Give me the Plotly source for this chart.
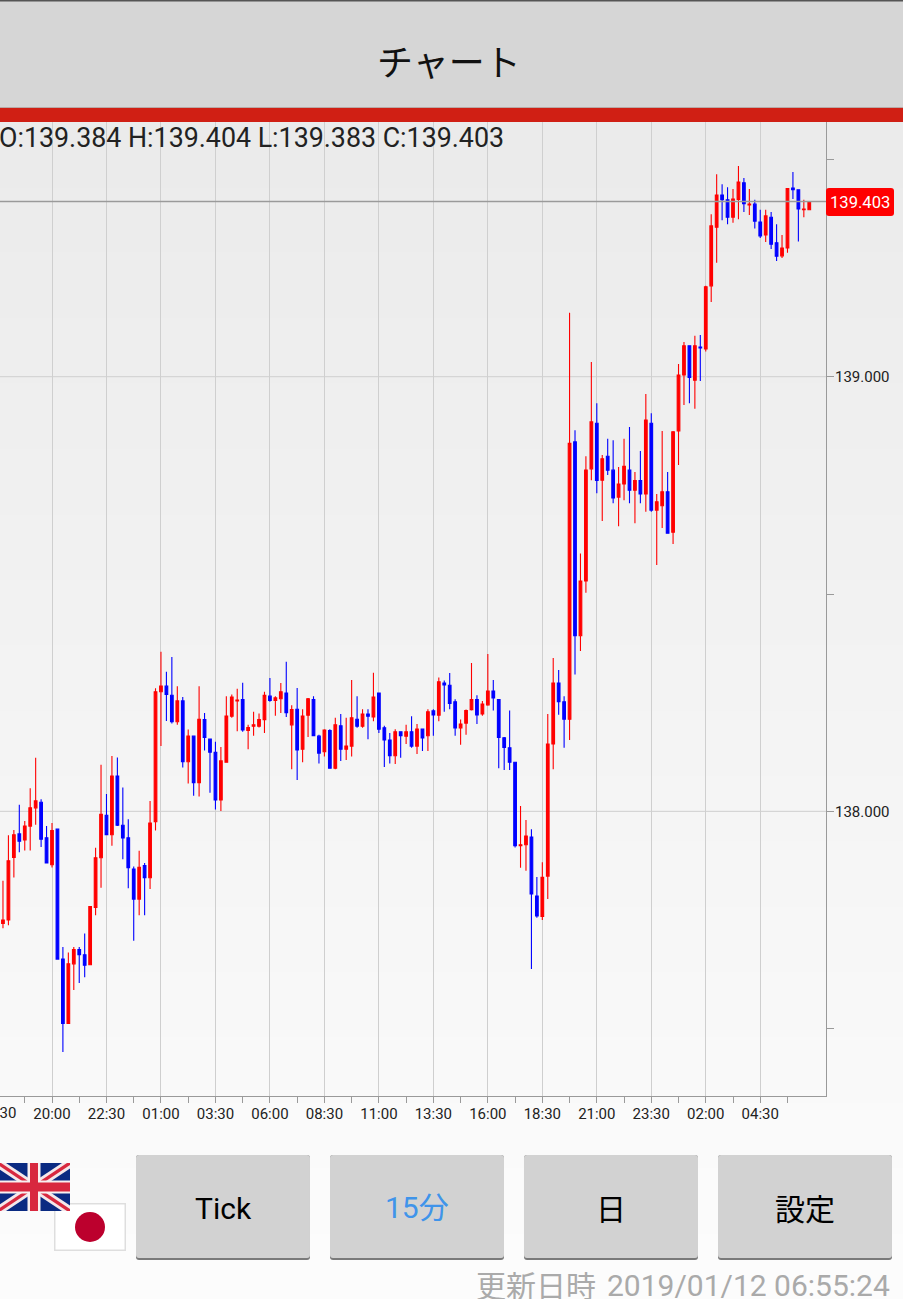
import plotly.graph_objects as go

# ---- chart data (USD/JPY style 15-minute candles) ----
opens = [137.742,137.750,137.894,137.948,137.934,137.966,138.008,138.021,137.939,137.877,
137.959,137.660,137.512,137.649,137.682,137.670,137.647,137.779,137.893,137.991,
137.946,138.081,137.968,137.939,137.867,137.798,137.875,137.847,137.976,138.275,
138.288,138.267,138.206,138.254,138.114,138.173,138.066,138.211,138.166,138.136,
138.026,138.113,138.219,138.254,138.257,138.186,138.196,138.196,138.211,138.265,
138.255,138.259,138.272,138.199,138.235,138.143,138.221,138.257,138.173,138.137,
138.186,138.099,138.197,138.143,138.150,138.212,138.196,138.224,138.217,138.272,
138.192,138.164,138.128,138.183,138.173,138.183,138.150,138.189,138.174,138.231,
138.221,138.295,138.290,138.252,138.192,138.203,138.234,138.257,138.224,138.245,
138.277,138.257,138.169,138.146,138.113,137.921,137.923,137.941,137.805,137.758,
137.851,138.155,138.295,138.252,138.212,138.850,138.404,138.530,138.788,138.893,
138.762,138.817,138.785,138.723,138.753,138.785,138.739,138.761,138.730,138.893,
138.693,138.703,138.735,138.642,138.875,139.004,139.071,138.992,139.068,139.064,
139.209,139.344,139.418,139.407,139.367,139.408,139.446,139.395,139.397,139.356,
139.326,139.367,139.308,139.278,139.296,139.434,139.430,139.384,139.384]

closes = [137.750,137.886,137.946,137.931,137.966,138.008,138.024,137.936,137.881,137.956,
137.660,137.512,137.649,137.682,137.670,137.646,137.781,137.893,137.993,137.946,
138.081,137.968,137.939,137.870,137.798,137.871,137.847,137.973,138.275,138.288,
138.269,138.206,138.254,138.114,138.173,138.066,138.212,138.170,138.136,138.026,
138.116,138.219,138.263,138.256,138.187,138.193,138.199,138.211,138.267,138.255,
138.261,138.275,138.227,138.234,138.141,138.219,138.259,138.174,138.134,138.187,
138.099,138.199,138.143,138.150,138.215,138.196,138.224,138.219,138.263,138.189,
138.164,138.128,138.183,138.174,138.183,138.150,138.189,138.169,138.229,138.222,
138.298,138.291,138.248,138.192,138.201,138.232,138.257,138.222,138.247,138.277,
138.261,138.170,138.147,138.113,137.921,137.923,137.943,137.810,137.759,137.848,
138.155,138.295,138.252,138.212,138.847,138.404,138.530,138.785,138.896,138.761,
138.811,138.785,138.721,138.753,138.794,138.739,138.761,138.730,138.900,138.693,
138.712,138.735,138.640,138.873,139.004,139.071,138.998,139.071,139.066,139.207,
139.347,139.418,139.407,139.367,139.409,139.448,139.398,139.397,139.358,139.324,
139.370,139.305,139.277,139.296,139.433,139.430,139.386,139.386,139.403]

highs = [137.840,137.945,137.957,138.015,137.978,138.053,138.123,138.028,137.966,137.973,
137.960,137.688,137.675,137.688,137.688,137.719,137.782,137.916,138.107,138.040,
138.127,138.124,138.055,137.982,137.873,137.909,137.881,138.024,138.283,138.367,
138.321,138.355,138.288,138.263,138.188,138.174,138.288,138.226,138.166,138.160,
138.148,138.265,138.269,138.282,138.296,138.199,138.229,138.225,138.275,138.307,
138.265,138.295,138.344,138.244,138.284,138.235,138.261,138.265,138.176,138.189,
138.189,138.215,138.224,138.215,138.302,138.265,138.235,138.235,138.319,138.272,
138.197,138.180,138.189,138.183,138.199,138.219,138.201,138.189,138.235,138.235,
138.308,138.301,138.318,138.258,138.211,138.234,138.341,138.267,138.254,138.362,
138.302,138.257,138.171,138.232,138.113,138.012,137.980,137.959,137.849,137.883,
138.224,138.353,138.325,138.265,139.147,138.877,138.593,138.817,139.034,138.939,
138.820,138.857,138.854,138.792,138.857,138.884,138.781,138.829,138.960,138.916,
138.730,138.875,138.781,138.875,139.029,139.080,139.071,139.094,139.096,139.209,
139.374,139.466,139.443,139.436,139.432,139.485,139.457,139.432,139.407,139.384,
139.384,139.379,139.351,139.326,139.434,139.471,139.430,139.407,139.404]

lows = [137.731,137.738,137.848,137.906,137.910,137.910,137.969,137.918,137.881,137.871,
137.659,137.446,137.512,137.589,137.605,137.618,137.646,137.761,137.824,137.945,
137.921,137.966,137.890,137.823,137.702,137.761,137.761,137.821,137.956,138.150,
138.208,138.202,138.199,138.101,138.064,138.036,138.034,138.140,138.043,138.004,
138.001,138.113,138.215,138.184,138.183,138.143,138.174,138.193,138.180,138.252,
138.220,138.226,138.217,138.097,138.072,138.113,138.171,138.173,138.110,138.126,
138.099,138.097,138.116,138.118,138.126,138.192,138.192,138.166,138.207,138.180,
138.102,138.110,138.109,138.123,138.155,138.146,138.132,138.139,138.139,138.174,
138.207,138.229,138.235,138.174,138.153,138.176,138.232,138.201,138.220,138.243,
138.232,138.099,138.095,138.095,137.917,137.870,137.863,137.637,137.755,137.750,
137.798,138.097,138.222,138.146,138.164,138.315,138.369,138.503,138.762,138.732,
138.668,138.774,138.709,138.656,138.716,138.709,138.663,138.709,138.689,138.689,
138.567,138.652,138.640,138.615,138.797,138.935,138.939,138.926,138.990,139.058,
139.172,139.262,139.360,139.351,139.354,139.362,139.379,139.372,139.341,139.319,
139.310,139.294,139.266,139.273,139.285,139.409,139.311,139.367,139.383]

candle_index = list(range(len(opens)))
time_tick_index = [9, 19, 29, 39, 49, 59, 69, 79, 89, 99, 109, 119, 129, 139]
time_tick_labels = ["20:00","22:30","01:00","03:30","06:00","08:30","11:00",
                    "13:30","16:00","18:30","21:00","23:30","02:00","04:30"]
cut_off_time_label = "17:30"
minor_time_index = [4, 14, 24, 34, 44, 54, 64, 74, 84, 94, 104, 114, 124, 134, 144]
price_ticks = [137.5, 138.0, 138.5, 139.0, 139.5]
price_tick_labels = ["", "138.000", "", "139.000", ""]
last_price = 139.403
ohlc_text = "O:139.384 H:139.404 L:139.383 C:139.403"
title_text = "チャート"
button_labels = ["Tick", "15分", "日", "設定"]
updated_label = "更新日時"
updated_stamp = "2019/01/12 06:55:24"

# ---- page geometry ----
W, H = 903, 1299
PL, PR, PT, PB = 0, 826, 122, 1096
PW, PH = PR - PL, PB - PT
LATIN = "Roboto, 'Noto Sans CJK JP', sans-serif"
CJK = "'Noto Sans CJK JP', Roboto, sans-serif"


def X(px):
    return (px - PL) / PW


def Y(py):
    return (PB - py) / PH


def rect(x0, y0, x1, y1, color, layer="above", line=None):
    return dict(type="rect", xref="paper", yref="paper", x0=X(x0), x1=X(x1), y0=Y(y0), y1=Y(y1),
                fillcolor=color, layer=layer, line=line or dict(width=0))


def poly(points, color):
    d = "M " + " L ".join(f"{X(a):.5f},{Y(b):.5f}" for a, b in points) + " Z"
    return dict(type="path", xref="paper", yref="paper", path=d, fillcolor=color,
                layer="above", line=dict(width=0))


def rounded(x0, y0, x1, y1, r, color):
    d = (f"M {X(x0+r):.5f},{Y(y0):.5f} L {X(x1-r):.5f},{Y(y0):.5f} "
         f"Q {X(x1):.5f},{Y(y0):.5f} {X(x1):.5f},{Y(y0+r):.5f} "
         f"L {X(x1):.5f},{Y(y1-r):.5f} Q {X(x1):.5f},{Y(y1):.5f} {X(x1-r):.5f},{Y(y1):.5f} "
         f"L {X(x0+r):.5f},{Y(y1):.5f} Q {X(x0):.5f},{Y(y1):.5f} {X(x0):.5f},{Y(y1-r):.5f} "
         f"L {X(x0):.5f},{Y(y0+r):.5f} Q {X(x0):.5f},{Y(y0):.5f} {X(x0+r):.5f},{Y(y0):.5f} Z")
    return dict(type="path", xref="paper", yref="paper", path=d, fillcolor=color,
                layer="above", line=dict(width=0))


def label(text, px, py, size, color="#111111", family=LATIN, anchor="center"):
    return dict(text=text, xref="paper", yref="paper", x=X(px), y=Y(py), xanchor=anchor,
                yanchor="middle", showarrow=False, borderpad=0,
                font=dict(size=size, color=color, family=family))


shapes = []
# page gradient, one band per grey level
levels = list(range(0xEB, 0xFD))
for k, g in enumerate(levels):
    y0 = PT + (H - PT) * k / len(levels)
    shapes.append(rect(0, y0, W, H, f"rgb({g},{g},{g})", layer="below"))

# header
shapes.append(rect(0, 0, W, 107, "#d6d6d6"))
shapes.append(rect(0, 0, W, 1.5, "#555555"))
shapes.append(rect(0, 107, W, 122, "#d01f14"))
shapes.append(rect(0, 107, W, 108, "#b9a9a6"))

# last-price line and tag
shapes.append(dict(type="line", xref="paper", yref="y", x0=0, x1=1, y0=last_price, y1=last_price,
                   layer="above", line=dict(color="#9a9a9a", width=1.6)))
shapes.append(rounded(826, 188, 894, 216, 3, "#ff0000"))

# buttons
button_x = [136, 330, 524, 718]
for bx in button_x:
    shapes.append(rounded(bx, 1155, bx + 174, 1260, 3, "#7a7a7a"))
    shapes.append(rounded(bx, 1155, bx + 174, 1258, 3, "#d2d2d2"))

# Japanese flag
shapes.append(rect(54, 1203, 126, 1251, "#dedede"))
shapes.append(rect(55.5, 1204.5, 124.5, 1249.5, "#ffffff"))
shapes.append(dict(type="circle", xref="paper", yref="paper", x0=X(75), x1=X(105), y0=Y(1212), y1=Y(1242),
                   fillcolor="#bc002d", layer="above", line=dict(width=0)))

# UK flag
fx0, fy0, fx1, fy1 = -2, 1163, 70, 1211
fxc, fyc = (fx0 + fx1) / 2, (fy0 + fy1) / 2
shapes.append(rect(fx0, fy0, fx1, fy1, "#0a2a82"))
dw, dh = 8, 5.5
shapes.append(poly([(fx0, fy0), (fx0 + dw, fy0), (fx1, fy1 - dh), (fx1, fy1), (fx1 - dw, fy1), (fx0, fy0 + dh)], "#f4e8ea"))
shapes.append(poly([(fx1, fy0), (fx1 - dw, fy0), (fx0, fy1 - dh), (fx0, fy1), (fx0 + dw, fy1), (fx1, fy0 + dh)], "#f4e8ea"))
dw, dh = 3, 2
shapes.append(poly([(fx0, fy0), (fx0 + dw, fy0), (fx1, fy1 - dh), (fx1, fy1), (fx1 - dw, fy1), (fx0, fy0 + dh)], "#d8283f"))
shapes.append(poly([(fx1, fy0), (fx1 - dw, fy0), (fx0, fy1 - dh), (fx0, fy1), (fx0 + dw, fy1), (fx1, fy0 + dh)], "#d8283f"))
shapes.append(rect(fxc - 6.5, fy0, fxc + 6.5, fy1, "#f8f0f0"))
shapes.append(rect(fx0, fyc - 6.5, fx1, fyc + 6.5, "#f8f0f0"))
shapes.append(rect(fxc - 4, fy0, fxc + 4, fy1, "#d8283f"))
shapes.append(rect(fx0, fyc - 4.5, fx1, fyc + 4.5, "#d8283f"))

annotations = [
    label(title_text, 449.5, 60.5, 36, "#111111", CJK),
    label(ohlc_text, -2, 138, 26.8, "#222222", LATIN, "left"),
    label(cut_off_time_label, -2.4, 1113, 15, "#222222"),
    label(f"{last_price:.3f}", 860, 202, 16.6, "#ffffff"),
    label(button_labels[0], 223, 1208, 30, "#000000"),
    label(button_labels[1], 417, 1207.5, 30, "#3f94ea"),
    label(button_labels[2], 611, 1206.5, 30, "#000000", CJK),
    label(button_labels[3], 805, 1206.5, 30, "#000000", CJK),
    label(updated_label, 475, 1284, 30, "#aaaaaa", CJK, "left"),
    label(updated_stamp, 890.5, 1285, 30, "#aaaaaa", LATIN, "right"),
]

fig = go.Figure(go.Candlestick(
    x=candle_index, open=opens, high=highs, low=lows, close=closes,
    increasing=dict(line=dict(color="#ff0000", width=1.1), fillcolor="#ff0000"),
    decreasing=dict(line=dict(color="#0000ff", width=1.1), fillcolor="#0000ff"),
    showlegend=False, hoverinfo="skip",
))

fig.update_layout(
    width=W, height=H, autosize=False,
    margin=dict(l=PL, r=W - PR, t=PT, b=H - PB, pad=0, autoexpand=False),
    paper_bgcolor="#ffffff", plot_bgcolor="rgba(0,0,0,0)",
    showlegend=False, shapes=shapes, annotations=annotations,
    xaxis=dict(
        range=[-0.545, 151.07], rangeslider=dict(visible=False),
        tickmode="array", tickvals=time_tick_index, ticktext=time_tick_labels,
        ticks="outside", ticklen=6, tickwidth=1, tickcolor="#9a9a9a",
        tickfont=dict(size=15, color="#222222", family=LATIN), ticklabelstandoff=-2,
        showgrid=True, gridcolor="#cfcfcf", gridwidth=1, zeroline=False,
        showline=True, linecolor="#9a9a9a", linewidth=1,
        minor=dict(tickmode="array", tickvals=minor_time_index, ticks="outside", ticklen=6,
                   tickwidth=1, tickcolor="#9a9a9a", showgrid=False),
    ),
    yaxis=dict(
        side="right", range=[137.345, 139.586],
        tickmode="array", tickvals=price_ticks, ticktext=price_tick_labels,
        ticks="outside", ticklen=7, tickwidth=1, tickcolor="#9a9a9a",
        tickfont=dict(size=15, color="#222222", family=LATIN), ticklabelstandoff=-2,
        showgrid=False, zeroline=False,
        showline=True, linecolor="#9a9a9a", linewidth=1,
    ),
)
for level in (138.0, 139.0):
    fig.add_hline(y=level, line=dict(color="#cfcfcf", width=1), layer="below")

fig.write_html(
    "out.html",
    config=dict(displayModeBar=False, staticPlot=True),
    post_script="document.body.style.margin='0';document.body.style.overflow='hidden';",
)
